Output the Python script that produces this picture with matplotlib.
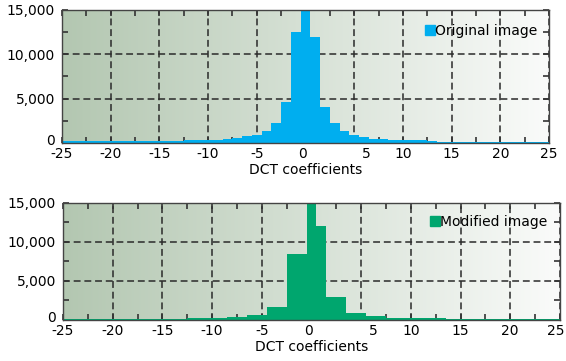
import numpy as np
import matplotlib
matplotlib.use("Agg")
import matplotlib.pyplot as plt
from matplotlib.colors import LinearSegmentedColormap
from matplotlib.lines import Line2D
from matplotlib.transforms import ScaledTranslation

plt.rcParams['axes.unicode_minus'] = False
plt.rcParams['font.size'] = 10

# DCT coefficient bins (-25 .. 25)
coeffs = list(range(-25, 26))

# counts
original = [250, 250, 250, 250, 250, 250, 250, 250, 200, 200,
            250, 250, 250, 330, 330, 330, 330,
            420, 600, 750, 900, 1400, 2300, 4600, 12500, 15000, 12000,
            4000, 2300, 1300, 950, 720, 480, 420, 280, 280, 280, 350, 220,
            90, 90, 90, 90, 90, 90, 90, 90, 90, 90, 90, 90]
modified = [120, 120, 120, 120, 120, 120, 120, 120, 120,
            170, 170, 170, 170, 280, 280, 280, 280,
            400, 400, 640, 640, 1700, 1700, 8400, 8400, 15000, 12000,
            2950, 2950, 850, 850, 450, 450, 200, 200, 200, 200, 200, 200,
            100, 100, 100, 100, 100, 100, 100, 100, 100, 100, 100, 100]

xtick_vals = [-25, -20, -15, -10, -5, 0, 5, 10, 15, 20, 25]
xtick_labels = ['-25', '-20', '-15', '-10', '-5', '0', '5', '10', '15', '20', '25']
ytick_vals = [0, 5000, 10000, 15000]
ytick_labels = ['0', '5,000', '10,000', '15,000']

series = [("Original image", original, '#00aeef'),
          ("Modified image", modified, '#00a66e')]

bg = LinearSegmentedColormap.from_list('bg', ['#b3c7b1', '#fafbfa'])

fig = plt.figure(figsize=(5.66, 3.61), dpi=100)
rects = [[0.1095, 0.604, 0.8604, 0.3684],
         [0.1113, 0.1136, 0.878, 0.3241]]


def nudge(lab, dx_px, dy_px=0):
    lab.set_transform(lab.get_transform() +
                      ScaledTranslation(dx_px / 100, dy_px / 100, fig.dpi_scale_trans))


for i, (rect, (name, counts, color)) in enumerate(zip(rects, series)):
    ax = fig.add_axes(rect)
    ax.imshow(np.linspace(0, 1, 256).reshape(1, -1), cmap=bg, aspect='auto',
              extent=(-25, 25, 0, 15000), zorder=0, interpolation='bilinear')
    ax.bar(coeffs, counts, width=1.0, color=color, zorder=2, linewidth=0)
    ax.set_xlim(-25, 25)
    ax.set_ylim(0, 15000)
    ax.set_axisbelow(True)

    ax.set_xticks(xtick_vals, xtick_labels)
    ax.set_xticks(np.arange(-22.5, 25, 5), minor=True)
    ax.set_yticks(ytick_vals, ytick_labels)
    ax.set_yticks([2500, 7500, 12500], minor=True)
    ax.tick_params(which='both', direction='in', top=True, right=True,
                   length=4, width=1.2, color='#333333')
    ax.tick_params(axis='x', pad=3)
    ax.tick_params(axis='y', pad=5)
    ax.grid(True, which='major', color='#2a2a2a', linestyle=(0, (4.5, 2.5)),
            linewidth=1.1)
    for s in ax.spines.values():
        s.set_color('#444444')
        s.set_linewidth(1.0)

    ax.set_xlabel("DCT coefficients", labelpad=1)

    handle = Line2D([], [], marker='s', linestyle='none', color=color,
                    markersize=7)
    ax.legend([handle], [name], loc='center right',
              bbox_to_anchor=(0.975, 0.84), frameon=False, borderpad=0,
              handlelength=0.6, handletextpad=0.05, borderaxespad=0)

    xl = ax.get_xticklabels()
    nudge(xl[5], -3)
    nudge(xl[6], 12)
    if i == 1:
        nudge(xl[10], -4)
    nudge(ax.get_yticklabels()[0], 0, 3)

fig.savefig('out.png', dpi=100)
